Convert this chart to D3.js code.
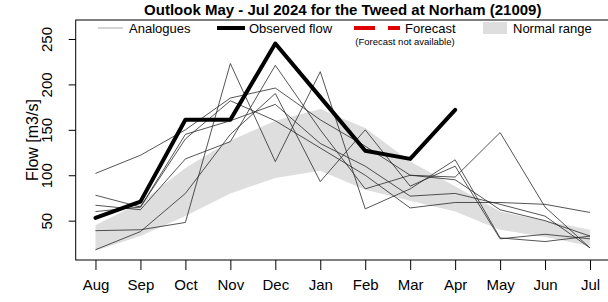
<!DOCTYPE html>
<html><head><meta charset="utf-8">
<script src="https://cdn.jsdelivr.net/npm/d3@7"></script>
<style>
body{margin:0;background:#fff;}
svg{display:block;font-family:"Liberation Sans",Arial,sans-serif;}
</style></head>
<body><svg id="c" width="608" height="302"></svg>
<script>
const months = ["Aug","Sep","Oct","Nov","Dec","Jan","Feb","Mar","Apr","May","Jun","Jul"];
const yTicks = [50,100,150,200,250];
const observed = [53,71,161,161,245,186,127,118,172];
const normalLow  = [17,33,55,80,97,105,84,72,60,40,32,22];
const normalHigh = [45,70,108,138,160,173,152,115,88,60,50,40];
const analogue1 = [102,122,150,185,196,161,132,100,95,62,50,33];
const analogue2 = [39,40,48,223,115,214,63,85,117,31,27,33];
const analogue3 = [67,62,118,137,221,150,85,100,98,147,65,20];
const analogue4 = [78,65,140,182,160,130,100,64,70,70,68,59];
const analogue5 = [18,38,80,145,190,93,150,88,110,30,35,30];
const analogue6 = [60,65,145,160,178,135,110,77,80,68,55,20];
const analogues = [analogue1,analogue2,analogue3,analogue4,analogue5,analogue6];

const svg = d3.select("#c");
const L=75.7, R=609.8, T=20, B=260;
const x = d3.scaleLinear().domain([-0.44, 11.44]).range([L, R]);
const y = d3.scaleLinear().domain([6.7, 270.9]).range([B, T]);

svg.append("defs").append("clipPath").attr("id","clip")
  .append("rect").attr("x",L).attr("y",T).attr("width",R-L).attr("height",B-T);
const g = svg.append("g").attr("clip-path","url(#clip)");

// normal range band
const area = d3.area().x((d,i)=>x(i)).y0((d,i)=>y(normalLow[i])).y1(d=>y(d));
g.append("path").datum(normalHigh).attr("d",area).attr("fill","#dedede");

// analogues
const line = d3.line().x((d,i)=>x(i)).y(d=>y(d));
analogues.forEach(a=>{
  g.append("path").datum(a).attr("d",line).attr("fill","none")
   .attr("stroke","#2a2a2a").attr("stroke-width",0.8);
});
// observed
g.append("path").datum(observed).attr("d",line).attr("fill","none")
  .attr("stroke","#000").attr("stroke-width",4).attr("stroke-linejoin","round").attr("stroke-linecap","round");

// box
svg.append("rect").attr("x",L).attr("y",T).attr("width",R-L).attr("height",B-T)
  .attr("fill","none").attr("stroke","#000").attr("stroke-width",1);

// x axis
const xa = svg.append("g").attr("transform",`translate(0,${B})`)
  .call(d3.axisBottom(x).tickValues(d3.range(months.length)).tickFormat(i=>months[i]).tickSize(10).tickSizeOuter(0));
xa.select(".domain").remove();
xa.selectAll("text").attr("font-size",15).attr("font-family","Liberation Sans, Arial").attr("fill","#000")
  .attr("y",25).attr("dy","0.35em");
xa.selectAll("line").attr("stroke","#000");

// y axis
const ya = svg.append("g").attr("transform",`translate(${L},0)`)
  .call(d3.axisLeft(y).tickValues(yTicks).tickSize(7).tickSizeOuter(0));
ya.select(".domain").remove();
ya.selectAll("line").attr("stroke","#000");
ya.selectAll("text").attr("font-size",15).attr("font-family","Liberation Sans, Arial").attr("fill","#000")
  .attr("text-anchor","middle")
  .each(function(){ d3.select(this).attr("transform","translate(-29,0) rotate(-90)").attr("x",0).attr("y",0).attr("dy","0.35em"); });

// y label
svg.append("text").attr("transform",`translate(32,${(T+B)/2}) rotate(-90)`).attr("text-anchor","middle")
  .attr("font-size",16).attr("dy","0.35em").text("Flow [m3/s]");

// title
svg.append("text").attr("x",(L+R)/2).attr("y",15).attr("text-anchor","middle")
  .attr("font-size",15).attr("font-weight","bold").text("Outlook May - Jul 2024 for the Tweed at Norham (21009)");

// legend
const ly = 28;
const leg = svg.append("g").attr("font-size",13);
leg.append("line").attr("x1",98).attr("x2",123).attr("y1",ly).attr("y2",ly).attr("stroke","#aaa").attr("stroke-width",1);
leg.append("text").attr("x",129).attr("y",ly).attr("dy","0.35em").text("Analogues");
leg.append("line").attr("x1",217).attr("x2",245).attr("y1",ly).attr("y2",ly).attr("stroke","#000").attr("stroke-width",4);
leg.append("text").attr("x",249).attr("y",ly).attr("dy","0.35em").text("Observed flow");
leg.append("line").attr("x1",354).attr("x2",400).attr("y1",ly).attr("y2",ly).attr("stroke","#e00000").attr("stroke-width",4).attr("stroke-dasharray","21,13");
leg.append("text").attr("x",405).attr("y",ly).attr("dy","0.35em").text("Forecast");
leg.append("text").attr("x",405).attr("y",41.5).attr("dy","0.35em").attr("text-anchor","middle").attr("font-size",9.5).text("(Forecast not available)");
leg.append("rect").attr("x",483).attr("y",22).attr("width",24).attr("height",12).attr("fill","#dedede");
leg.append("text").attr("x",513).attr("y",ly).attr("dy","0.35em").text("Normal range");
</script></body></html>
